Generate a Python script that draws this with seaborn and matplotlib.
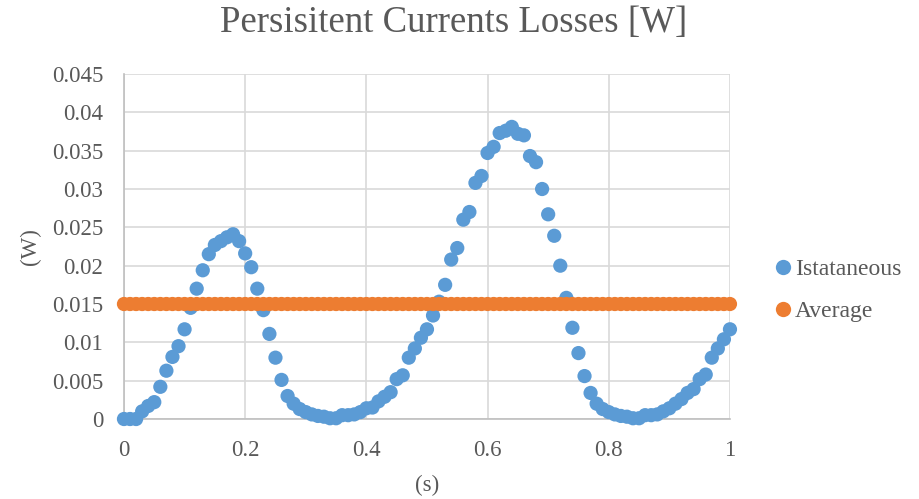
import numpy as np
import pandas as pd
import matplotlib
matplotlib.use("Agg")
import matplotlib.pyplot as plt
import seaborn as sns

# time samples (s)
time_s = [round(i * 0.01, 2) for i in range(101)]

# instantaneous losses (W)
instantaneous = [
    0.0, 0.0, 0.0, 0.001, 0.0017, 0.0022, 0.0042, 0.0063, 0.0081, 0.0095,
    0.0117, 0.0145, 0.017, 0.0194, 0.0215, 0.0227, 0.0232, 0.0237, 0.0241, 0.0232,
    0.0216, 0.0198, 0.017, 0.0142, 0.0111, 0.008, 0.0051, 0.003, 0.002, 0.0013,
    0.0009, 0.0006, 0.0004, 0.0003, 0.0001, 0.0001, 0.0005, 0.0005, 0.0006, 0.0009,
    0.0014, 0.0015, 0.0023, 0.0029, 0.0035, 0.0052, 0.0057, 0.008, 0.0092, 0.0106,
    0.0117, 0.0135, 0.0153, 0.0175, 0.0208, 0.0223, 0.026, 0.027, 0.0308, 0.0317,
    0.0347, 0.0355, 0.0373, 0.0376, 0.0381, 0.0372, 0.037, 0.0343, 0.0335, 0.03,
    0.0267, 0.0239, 0.02, 0.0158, 0.0119, 0.0086, 0.0056, 0.0034, 0.002, 0.0013,
    0.0009, 0.0006, 0.0004, 0.0003, 0.0001, 0.0001, 0.0005, 0.0005, 0.0006, 0.001,
    0.0014, 0.002, 0.0026, 0.0034, 0.0039, 0.0052, 0.0058, 0.008, 0.0092, 0.0104,
    0.0117,
]

# average losses (W)
average = [0.015] * len(time_s)

series_names = ["Istataneous", "Average"]
series_colors = ["#5B9BD5", "#ED7D31"]

x_ticks = [0, 0.2, 0.4, 0.6, 0.8, 1]
x_tick_labels = ["0", "0.2", "0.4", "0.6", "0.8", "1"]
y_ticks = [0, 0.005, 0.01, 0.015, 0.02, 0.025, 0.03, 0.035, 0.04, 0.045]
y_tick_labels = ["0", "0.005", "0.01", "0.015", "0.02", "0.025", "0.03", "0.035", "0.04", "0.045"]

df = pd.DataFrame({
    "t": time_s * 2,
    "P": instantaneous + average,
    "series": [series_names[0]] * len(time_s) + [series_names[1]] * len(time_s),
})

sns.set_theme(style="white")
plt.rcParams["font.family"] = ["Liberation Serif", "DejaVu Serif"]
text_color = "#595959"

fig = plt.figure(figsize=(9.19, 4.99), dpi=100)
ax = fig.add_axes([0.1349, 0.1603, 0.6594, 0.6914])

sns.scatterplot(
    data=df, x="t", y="P", hue="series", hue_order=series_names,
    palette=series_colors, s=105, linewidth=0, ax=ax, legend=False,
    clip_on=False, zorder=3,
)

ax.set_xlim(0, 1)
ax.set_ylim(0, 0.045)
ax.set_xticks(x_ticks)
ax.set_xticklabels(x_tick_labels)
ax.set_yticks(y_ticks)
ax.set_yticklabels(y_tick_labels)
ax.tick_params(axis="both", labelsize=16.5, colors=text_color, length=0)
ax.tick_params(axis="y", pad=15)
ax.tick_params(axis="x", pad=15)

ax.grid(True, color="#d9d9d9", linewidth=1.2)
ax.set_axisbelow(True)
for side in ["top", "right"]:
    ax.spines[side].set_visible(False)
for side in ["left", "bottom"]:
    ax.spines[side].set_color("#bfbfbf")
    ax.spines[side].set_linewidth(1.2)

ax.set_xlabel("(s)", fontsize=16.5, color=text_color, labelpad=10)
ax.set_ylabel("(W)", fontsize=16.5, color=text_color, labelpad=8)
fig.text(0.494, 0.955, "Persisitent Currents Losses [W]", fontsize=26.5,
         color=text_color, ha="center", va="center")

handles = [
    plt.Line2D([], [], marker="o", linestyle="", markersize=11,
               markerfacecolor=c, markeredgewidth=0)
    for c in series_colors
]
leg = fig.legend(
    handles, series_names, loc="center left", bbox_to_anchor=(0.816, 0.418),
    frameon=False, fontsize=17, handletextpad=0.0, labelspacing=0.85,
    handlelength=1.0,
)
for t in leg.get_texts():
    t.set_color(text_color)

fig.savefig("out.png", dpi=100)
